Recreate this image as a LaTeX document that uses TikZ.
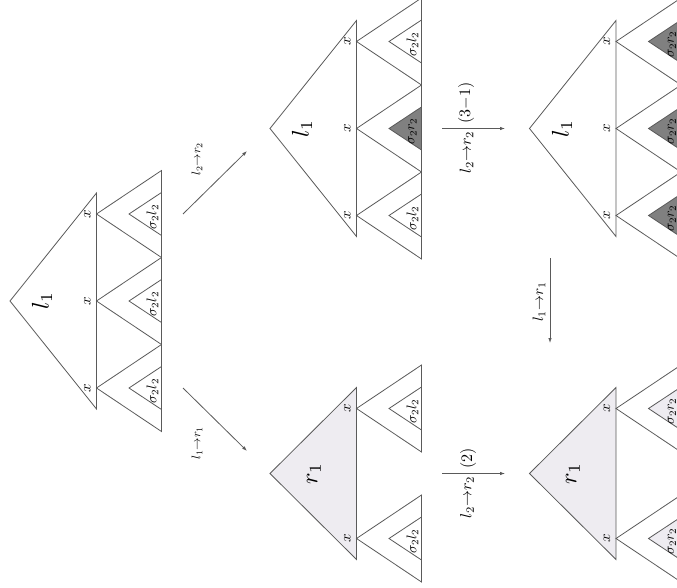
\documentclass[tikz,border=0pt]{standalone}
\usetikzlibrary{arrows.meta}
\definecolor{lcol}{RGB}{90,90,90}
\definecolor{darkf}{RGB}{128,128,128}
\definecolor{lightf}{RGB}{238,236,241}
\newcommand\mychild[4]{%
  \draw[tline] (#1,#2) -- (#1+65,#2-43.5) -- (#1+65,#2+43.5) -- cycle;
  \draw[tline,fill=#4] (#1+32.5,#2) -- (#1+65,#2-21.5) -- (#1+65,#2+21.5) -- cycle;
  \node[slab] at (#1+56,#2+3) {$#3$};
  \node[xlab] at (#1-9,#2) {$x$};
}
\newcommand\mybig[5]{% apex x, center y, half width, label, fill
  \draw[tline,fill=#5] (#1,#2) -- (#1+86.5,#2-#3) -- (#1+86.5,#2+#3) -- cycle;
}
\begin{document}
\begin{tikzpicture}[x=1pt,y=-1pt,
  tline/.style={draw=lcol,line width=0.8pt,line join=miter},
  slab/.style={rotate=90,inner sep=0pt,scale=1.4},
  xlab/.style={rotate=90,inner sep=0pt,scale=1.5},
  biglab/.style={rotate=90,inner sep=0pt,scale=2.4},
  alab/.style={rotate=90,inner sep=0pt,scale=1.6},
  dlab/.style={rotate=90,inner sep=0pt,scale=1.25},
  vlab/.style={rotate=90,inner sep=0pt,scale=1.5},
  arr/.style={draw=lcol,line width=0.8pt,-{Latex[length=5pt,width=3.5pt]}}]
\useasboundingbox (0,0) rectangle (677,588);
\clip (0,0) rectangle (677,588);
% tree 1: l1 with three sigma2 l2
\mybig{10}{301}{108}{}{white}
\node[biglab] (t1) at (42,301) {$l_1$};
\mychild{96.5}{214}{\sigma_2 l_2}{white}
\mychild{96.5}{301}{\sigma_2 l_2}{white}
\mychild{96.5}{388}{\sigma_2 l_2}{white}
% tree 2: l1, middle rewritten
\mybig{270}{128.5}{108}{}{white}
\node[biglab] (t2) at (302,128.5) {$l_1$};
\mychild{356.5}{41.5}{\sigma_2 l_2}{white}
\mychild{356.5}{128.5}{\sigma_2 r_2}{darkf}
\mychild{356.5}{215.5}{\sigma_2 l_2}{white}
% tree 3: r1 with two sigma2 l2
\mybig{270}{473.5}{86}{}{lightf}
\node[biglab] (t3) at (314,473.5) {$r_1$};
\mychild{356.5}{408.5}{\sigma_2 l_2}{white}
\mychild{356.5}{538.5}{\sigma_2 l_2}{white}
% tree 4: l1 with three sigma2 r2
\mybig{529.5}{128.5}{108}{}{white}
\node[biglab] (t4) at (562,128.5) {$l_1$};
\mychild{616}{41.5}{\sigma_2 r_2}{darkf}
\mychild{616}{128.5}{\sigma_2 r_2}{darkf}
\mychild{616}{215.5}{\sigma_2 r_2}{darkf}
% tree 5: r1 with two sigma2 r2
\mybig{529.5}{473.5}{86}{}{lightf}
\node[biglab] (t5) at (573,473.5) {$r_1$};
\mychild{616}{408.5}{\sigma_2 r_2}{lightf}
\mychild{616}{538.5}{\sigma_2 r_2}{lightf}
% arrows
\coordinate (a1s) at (183,214); \coordinate (a1e) at (247,151);
\coordinate (a2s) at (183,388); \coordinate (a2e) at (247,451);
\coordinate (a3s) at (442,128.5); \coordinate (a3e) at (505,128.5);
\coordinate (a4s) at (442,473.5); \coordinate (a4e) at (505,473.5);
\coordinate (a5s) at (550,258); \coordinate (a5e) at (550,343);
\draw[arr] (a1s) -- (a1e);
\draw[arr] (a2s) -- (a2e);
\draw[arr] (a3s) -- (a3e);
\draw[arr] (a4s) -- (a4e);
\draw[arr] (a5s) -- (a5e);
\node[dlab] (l1) at (197,159) {$l_2{\to}r_2$};
\node[dlab] (l2) at (197,443) {$l_1{\to}r_1$};
\node[alab] (l3) at (466.5,152.5) {$l_2{\to}r_2$};
\node[alab] (l3b) at (466,103) {$(3{-}1)$};
\node[alab] (l4) at (467,497.5) {$l_2{\to}r_2$};
\node[alab] (l4b) at (468,458) {$(2)$};
\node[vlab] (l5) at (539,302) {$l_1{\to}r_1$};
\end{tikzpicture}
\end{document}
